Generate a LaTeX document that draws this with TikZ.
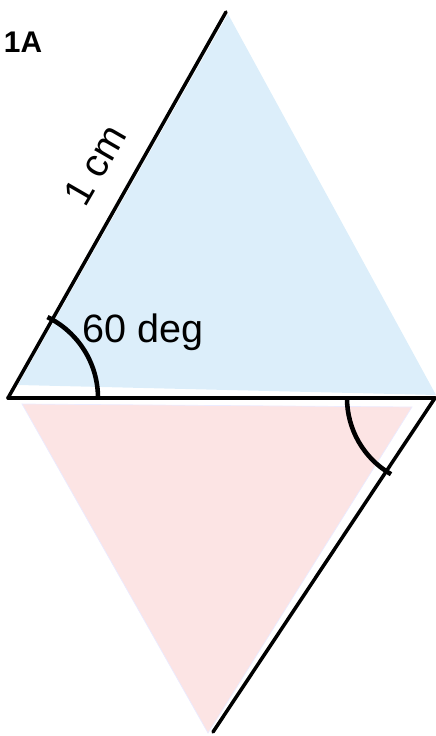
\documentclass[tikz,border=0pt]{standalone}
\usepackage{fontspec}
\setmainfont{Liberation Sans}
\usepackage{tikz}
\usetikzlibrary{calc}

\definecolor{skyfill}{RGB}{220,238,250}
\definecolor{rosefill}{RGB}{252,228,228}

\begin{document}
\begin{tikzpicture}[
    edge/.style={line width=2pt, black, line cap=round},
    anglearc/.style={line width=2.6pt, black},
    lbl/.style={font=\fontsize{22.5}{26}\selectfont, inner sep=0pt}
]
\useasboundingbox (0,0) rectangle (8.72,14.72);

% ===== Flächen =====
\fill[skyfill] (0.36,7.02) -- (4.56,14.44) -- (8.72,6.82) -- cycle;
\fill[rosefill, draw=blue!8, line width=0.4pt] (0.44,6.64) -- (8.24,6.58) -- (4.16,0.06) -- cycle;

% ===== Eckpunkte =====
\coordinate (lft) at (0.16,6.76);
\coordinate (top) at (4.52,14.48);
\coordinate (rgt) at (8.70,6.76);
\coordinate (bot) at (4.26,0.08);

% ===== Kanten =====
\draw[edge] (lft) -- (top);
\draw[edge] (lft) -- (rgt);
\draw[edge] (rgt) -- (bot);

% ===== Winkel =====
\draw[anglearc] ($(lft)+(1.8,0)$) arc[start angle=0, end angle=64, radius=1.8];
\draw[anglearc] ($(rgt)+(-1.76,0)$) arc[start angle=180, end angle=240, radius=1.76];

% ===== Beschriftung =====
\node[font=\fontsize{17}{20}\selectfont\bfseries, inner sep=0pt] (tag) at (0.46,13.88) {1A};
\node[lbl, rotate=60] (len) at (1.90,11.42) {1 cm};
\node[lbl, anchor=base west] (ang) at (1.64,7.86) {60 deg};

\end{tikzpicture}
\end{document}
